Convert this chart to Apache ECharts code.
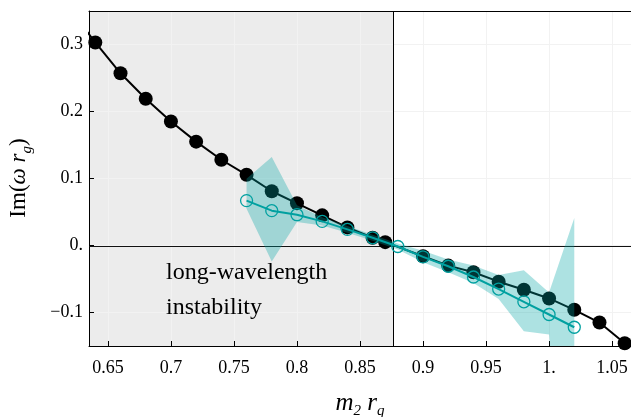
<!DOCTYPE html>
<html><head><meta charset="utf-8">
<script src="https://cdn.jsdelivr.net/npm/echarts@6/dist/echarts.min.js"></script>
<style>html,body{margin:0;padding:0;background:#fff}#c{width:631px;height:417px}</style>
</head><body><div id="c"></div>
<script>
// ---- data ----
const xBlack = [0.62,0.64,0.66,0.68,0.70,0.72,0.74,0.76,0.78,0.80,0.82,0.84,0.86,0.87,0.90,0.92,0.94,0.96,0.98,1.00,1.02,1.04,1.06];
const yBlack = [0.352,0.303,0.257,0.219,0.185,0.155,0.128,0.1055,0.081,0.063,0.045,0.027,0.0115,0.005,-0.016,-0.030,-0.040,-0.054,-0.066,-0.079,-0.096,-0.115,-0.146];
const xTeal = [0.76,0.78,0.80,0.82,0.84,0.86,0.88,0.90,0.92,0.94,0.96,0.98,1.00,1.02];
const yTeal = [0.067,0.052,0.046,0.036,0.024,0.0115,-0.0015,-0.017,-0.031,-0.047,-0.065,-0.084,-0.103,-0.122];
const bandUpper = [0.0995,0.132,0.060,0.042,0.029,0.016,0.003,-0.008,-0.021,-0.030,-0.044,-0.037,-0.070,0.041];
const bandLower = [0.055,-0.024,0.035,0.030,0.019,0.007,-0.006,-0.025,-0.040,-0.056,-0.080,-0.128,-0.133,-0.600];
const xTicks = [0.65,0.7,0.75,0.8,0.85,0.9,0.95,1.0,1.05];
const xTickLabels = ['0.65','0.7','0.75','0.8','0.85','0.9','0.95','1.','1.05'];
const yTicks = [-0.1,0,0.1,0.2,0.3];
const yTickLabels = ['\u22120.1','0.','0.1','0.2','0.3'];
const xRange = [0.635,1.065];
const yRange = [-0.15,0.35];
const regionEdge = 0.8765;
const annotationLines = ['long-wavelength','instability'];

const FONT = 'Liberation Serif';
const TEAL = '#00a0a0';
function lab(ticks, labels){ return v => { for (let i=0;i<ticks.length;i++) if (Math.abs(ticks[i]-v)<1e-9) return labels[i]; return ''; }; }

// Sutherland–Hodgman polygon clipping against an axis-aligned rect
function clipPoly(pts, r){
  const edges = [
    p => p[0] >= r.x,            (a,b) => { const t=(r.x-a[0])/(b[0]-a[0]); return [r.x, a[1]+t*(b[1]-a[1])]; },
    p => p[0] <= r.x+r.width,    (a,b) => { const X=r.x+r.width; const t=(X-a[0])/(b[0]-a[0]); return [X, a[1]+t*(b[1]-a[1])]; },
    p => p[1] >= r.y,            (a,b) => { const t=(r.y-a[1])/(b[1]-a[1]); return [a[0]+t*(b[0]-a[0]), r.y]; },
    p => p[1] <= r.y+r.height,   (a,b) => { const Y=r.y+r.height; const t=(Y-a[1])/(b[1]-a[1]); return [a[0]+t*(b[0]-a[0]), Y]; }
  ];
  let out = pts;
  for (let e=0;e<edges.length;e+=2){
    const inside = edges[e], inter = edges[e+1];
    const inp = out; out = [];
    for (let i=0;i<inp.length;i++){
      const cur = inp[i], prev = inp[(i+inp.length-1)%inp.length];
      const ci = inside(cur), pi = inside(prev);
      if (ci){ if (!pi) out.push(inter(prev,cur)); out.push(cur); }
      else if (pi){ out.push(inter(prev,cur)); }
    }
    if (!out.length) break;
  }
  return out;
}

const bandData = xTeal.map((x,i)=>[x, bandLower[i], bandUpper[i]]);

const chart = echarts.init(document.getElementById('c'), null, {renderer:'canvas'});
chart.setOption({
  animation:false,
  backgroundColor:'#fff',
  grid:{left:89, right:0, top:11, bottom:71, containLabel:false},
  xAxis:[{
    type:'value', min:xRange[0], max:xRange[1], position:'bottom', z:1,
    axisLine:{show:true, onZero:false, lineStyle:{color:'#000', width:1}},
    axisTick:{show:true, inside:true, length:5, customValues:xTicks, lineStyle:{color:'#000'}},
    axisLabel:{customValues:xTicks, formatter:lab(xTicks,xTickLabels), color:'#000', fontFamily:FONT, fontSize:18, margin:13},
    splitLine:{show:true, lineStyle:{color:'#f2f2f2', width:1}}
  },{
    type:'value', min:xRange[0], max:xRange[1], position:'top', z:1,
    axisLine:{show:true, onZero:false, lineStyle:{color:'#000', width:1}},
    axisTick:{show:false}, axisLabel:{show:false}, splitLine:{show:false}
  }],
  yAxis:[{
    type:'value', min:yRange[0], max:yRange[1], z:1,
    axisLine:{show:true, onZero:false, lineStyle:{color:'#000', width:1}},
    axisTick:{show:true, inside:true, length:5, customValues:yTicks, lineStyle:{color:'#000'}},
    axisLabel:{customValues:yTicks, formatter:lab(yTicks,yTickLabels), color:'#000', fontFamily:FONT, fontSize:18, margin:6},
    splitLine:{show:true, lineStyle:{color:'#f2f2f2', width:1}}
  }],
  series:[
    {
      type:'custom', name:'region', z:0, silent:true,
      data:[[xRange[0], regionEdge]],
      renderItem:function(params, api){
        const p0 = api.coord([api.value(0), yRange[1]]);
        const p1 = api.coord([api.value(1), yRange[0]]);
        return {type:'rect', shape:{x:p0[0], y:p0[1], width:p1[0]-p0[0], height:p1[1]-p0[1]}, style:{fill:'#ececec'}, z2:0};
      }
    },
    {
      type:'custom', name:'refLines', z:1.5, silent:true,
      data:[[regionEdge, 0]],
      renderItem:function(params, api){
        const v0 = api.coord([api.value(0), yRange[0]]);
        const v1 = api.coord([api.value(0), yRange[1]]);
        const h0 = api.coord([xRange[0], api.value(1)]);
        const h1 = api.coord([xRange[1], api.value(1)]);
        return {type:'group', children:[
          {type:'line', shape:{x1:Math.round(v0[0])+0.5, y1:v0[1], x2:Math.round(v1[0])+0.5, y2:v1[1]}, style:{stroke:'#000', lineWidth:1}},
          {type:'line', shape:{x1:h0[0], y1:Math.round(h0[1])+0.5, x2:h1[0], y2:Math.round(h1[1])+0.5}, style:{stroke:'#111', lineWidth:1}}
        ]};
      }
    },
    {
      type:'line', name:'black', z:2,
      data:xBlack.map((x,i)=>[x,yBlack[i]]),
      symbol:'circle', symbolSize:14,
      itemStyle:{color:'#000'},
      lineStyle:{color:'#000', width:2}
    },
    {
      type:'custom', name:'band', z:3, silent:true,
      data:bandData,
      encode:{x:0, y:[1,2]},
      renderItem:function(params, api){
        if (params.dataIndex !== 0) return null;
        const up = [], lo = [];
        for (let i=0;i<bandData.length;i++){
          up.push(api.coord([bandData[i][0], bandData[i][2]]));
          lo.push(api.coord([bandData[i][0], bandData[i][1]]));
        }
        const pts = up.concat(lo.reverse());
        const cs = params.coordSys;
        const clipped = clipPoly(pts, {x:cs.x, y:cs.y, width:cs.width, height:cs.height});
        return {type:'polygon', shape:{points:clipped}, style:{fill:'rgba(0,165,165,0.32)'}};
      }
    },
    {
      type:'line', name:'teal', z:4,
      data:xTeal.map((x,i)=>[x,yTeal[i]]),
      symbol:'circle', symbolSize:12,
      itemStyle:{color:'rgba(0,0,0,0)', borderColor:TEAL, borderWidth:1.3},
      lineStyle:{color:TEAL, width:2}
    }
  ],
  graphic:[
    {type:'text', x:21, y:178, rotation:Math.PI/2, style:{
      text:'{a|Im(}{b|ω r}{s|g}{a|)}', align:'center', verticalAlign:'middle',
      rich:{
        a:{fontFamily:FONT, fontSize:23, fill:'#000', lineHeight:28, verticalAlign:'top'},
        b:{fontFamily:FONT, fontStyle:'italic', fontSize:23, fill:'#000', lineHeight:28, verticalAlign:'top'},
        s:{fontFamily:FONT, fontStyle:'italic', fontSize:15, fill:'#000', lineHeight:15, verticalAlign:'bottom'}
      }}},
    {type:'text', x:360, y:405, style:{
      text:'{b|m}{s|2}{b| r}{s|q}', align:'center', verticalAlign:'middle',
      rich:{
        b:{fontFamily:FONT, fontStyle:'italic', fontSize:25, fill:'#000', lineHeight:28, verticalAlign:'top'},
        s:{fontFamily:FONT, fontStyle:'italic', fontSize:15, fill:'#000', lineHeight:15, verticalAlign:'bottom'}
      }}},
    {type:'text', x:166, y:273, z:10, style:{text:annotationLines[0], fontFamily:FONT, fontSize:24, fill:'#000', align:'left', verticalAlign:'middle'}},
    {type:'text', x:166, y:308, z:10, style:{text:annotationLines[1], fontFamily:FONT, fontSize:24, fill:'#000', align:'left', verticalAlign:'middle'}}
  ]
});
</script></body></html>
